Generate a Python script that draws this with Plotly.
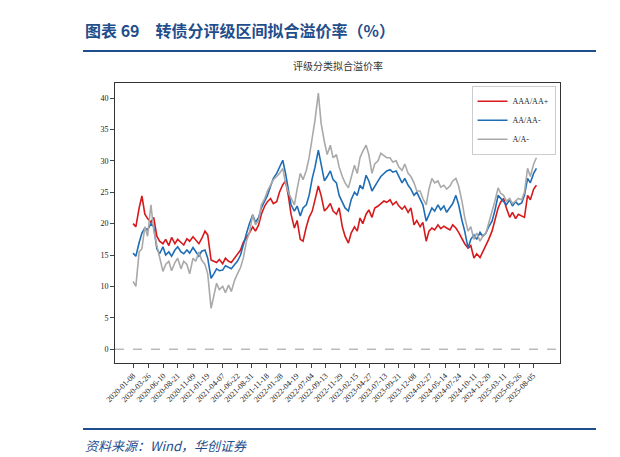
import pandas as pd
import plotly.graph_objects as go

# semi-monthly observation dates, 2020-01-08 .. 2025-08-22
dates = pd.date_range("2020-01-01", "2025-08-31", freq="SMS") + pd.Timedelta(days=7)

aaa = [20.0, 19.5, 22.5, 24.4, 21.5, 20.8, 20.2, 21.0, 18.0, 17.2, 16.8, 17.5, 16.5, 17.8, 16.8, 17.5, 17.0, 16.6, 17.6, 17.2, 17.9, 17.3, 16.8, 17.6,
       18.8, 18.2, 14.2, 14.0, 13.8, 14.3, 13.6, 14.5, 14.0, 13.8, 14.6, 15.2, 15.8, 17.0, 17.8, 18.5, 19.5, 18.8, 19.8, 21.5, 22.8, 23.5, 24.0, 23.2,
       23.5, 25.0, 26.2, 26.8, 24.5, 21.5, 19.3, 20.5, 17.5, 17.2, 19.5, 21.0, 22.0, 24.0, 26.0, 24.5, 22.0, 22.5, 23.2, 22.0, 21.5, 22.5, 19.5, 18.0,
       16.9, 18.5, 19.5, 18.8, 20.9, 20.0, 21.5, 22.2, 21.0, 22.5, 22.8, 23.2, 23.6, 23.4, 23.8, 23.0, 23.5, 22.8, 22.3, 22.8, 21.8, 22.5, 19.8, 20.5,
       19.5, 20.2, 17.2, 18.8, 19.3, 19.0, 19.8, 19.2, 19.6, 19.3, 19.0, 19.8, 19.3, 18.6, 17.5, 16.8, 16.1, 16.5, 14.5, 15.2, 14.6, 15.5, 16.8, 17.5,
       18.8, 20.5, 22.5, 23.5, 24.0, 22.5, 21.0, 21.8, 20.8, 21.5, 21.2, 21.0, 24.5, 23.8, 25.5, 26.1]

aa = [15.3, 14.8, 17.0, 18.5, 19.3, 19.0, 20.0, 19.5, 16.0, 15.2, 16.3, 15.0, 15.5, 14.8, 15.8, 16.3, 15.5, 15.2, 15.8, 15.3, 16.2, 15.5, 14.8, 15.6,
      15.8, 14.5, 11.3, 12.0, 12.8, 12.5, 12.6, 13.3, 13.0, 12.8, 13.5, 14.0, 15.0, 16.8, 18.5, 20.0, 21.4, 20.2, 21.0, 22.5, 23.6, 24.5, 26.0, 27.2,
      28.0, 29.0, 30.1, 28.0, 25.5, 23.0, 22.0, 22.8, 21.2, 22.5, 23.0, 24.5, 27.2, 29.0, 31.7, 29.5, 26.8, 27.5, 28.4, 27.0, 26.5, 24.5, 23.5, 22.5,
      22.0, 23.8, 25.0, 24.5, 26.1, 25.5, 27.7, 26.8, 25.2, 26.0, 26.8, 27.5, 28.0, 28.4, 28.6, 28.2, 28.4, 27.5, 26.5, 27.2, 26.1, 25.5, 24.5, 25.0,
      24.0, 23.0, 20.4, 21.5, 22.5, 22.0, 23.0, 22.2, 22.8, 21.8, 22.5, 23.2, 24.5, 23.0, 20.5, 18.8, 16.1, 17.5, 18.2, 17.5, 18.6, 18.0, 18.5, 19.5,
      20.4, 22.0, 24.5, 24.0, 23.6, 23.0, 23.8, 22.8, 23.5, 23.0, 23.3, 24.5, 27.2, 26.5, 28.0, 28.8]

a = [10.8, 10.0, 15.5, 16.0, 19.5, 18.0, 23.0, 19.0, 16.5, 14.5, 12.4, 13.5, 14.0, 12.5, 13.8, 14.5, 12.8, 14.0, 13.5, 12.0, 14.5, 14.0, 15.5, 14.2,
     13.5, 12.0, 6.5, 8.5, 10.5, 9.5, 10.0, 9.0, 10.2, 9.2, 11.0, 12.0, 13.0, 14.5, 17.3, 18.5, 21.4, 19.8, 20.5, 23.0, 24.0, 25.2, 26.1, 27.0,
     27.5, 28.0, 28.8, 26.5, 25.0, 24.0, 23.0, 25.5, 28.0, 27.0, 28.5, 30.5, 33.6, 36.5, 40.8, 36.0, 33.0, 31.0, 32.5, 30.5, 31.0, 29.0, 27.5, 26.5,
     25.7, 27.5, 29.3, 28.0, 30.5, 31.5, 32.5, 31.0, 28.0, 29.5, 30.0, 31.2, 30.8, 30.5, 30.5, 29.8, 30.0, 29.0, 28.5, 29.5, 28.0, 27.5, 26.5, 25.2,
     25.2, 24.0, 23.0, 25.5, 27.2, 26.5, 26.8, 25.8, 26.1, 25.5, 26.0, 26.8, 27.2, 26.0, 23.6, 21.0, 18.8, 19.5, 17.5, 18.5, 17.2, 18.0, 18.5, 20.0,
     22.0, 23.5, 25.7, 24.8, 24.5, 23.6, 24.0, 23.2, 23.6, 24.0, 23.8, 25.0, 28.8, 27.5, 29.5, 30.5]

tick_dates = ["2020-01-08", "2020-03-26", "2020-06-10", "2020-08-21", "2020-11-09", "2021-01-19",
              "2021-04-07", "2021-06-22", "2021-08-31", "2021-11-18", "2022-01-28", "2022-04-19",
              "2022-07-04", "2022-09-13", "2022-11-29", "2023-02-15", "2023-04-27", "2023-07-13",
              "2023-09-21", "2023-12-08", "2024-02-27", "2024-05-14", "2024-07-24", "2024-10-11",
              "2024-12-20", "2025-03-11", "2025-05-26", "2025-08-05"]

serif = "Liberation Serif, Noto Sans CJK SC"
L, T, W, H = 107, 75, 445, 280  # plot box in pixels


def px(x, y):
    return (x - L) / W, 1 - (y - T) / H


fig = go.Figure()
for name, ys, col in [("AAA/AA+", aaa, "#d7191c"), ("AA/AA-", aa, "#1f6db5"), ("A/A-", a, "#a9a9a9")]:
    fig.add_trace(go.Scatter(x=dates, y=ys, name=name, mode="lines", line=dict(color=col, width=1.6)))

fig.add_hline(y=0, line=dict(color="#999999", width=1, dash="dash"))

tx, ty = px(75, 22)
fx, fy = px(75, 437)
fig.update_layout(
    width=620, height=457, paper_bgcolor="white", plot_bgcolor="white",
    margin=dict(l=L, r=620 - L - W, t=T, b=457 - T - H, autoexpand=False),
    font=dict(family=serif, size=8, color="#222222"),
    showlegend=True,
    legend=dict(x=0.99, y=0.99, xanchor="right", yanchor="top", bordercolor="#cccccc", borderwidth=1,
                font=dict(size=8), bgcolor="white"),
    annotations=[
        dict(text="<b>图表 69　转债分评级区间拟合溢价率（%）</b>", x=tx, y=ty, xref="paper", yref="paper",
             showarrow=False, xanchor="left", yanchor="middle",
             font=dict(size=16, color="#1f4e8c", family="Noto Sans CJK SC")),
        dict(text="评级分类拟合溢价率", x=0.5, y=1.03, xref="paper", yref="paper", showarrow=False,
             yanchor="bottom", font=dict(size=10, color="#333333", family="Noto Sans CJK SC")),
        dict(text="<i>资料来源：Wind，华创证券</i>", x=fx, y=fy, xref="paper", yref="paper",
             showarrow=False, xanchor="left", yanchor="middle",
             font=dict(size=13, color="#1f4e8c", family="Noto Sans CJK SC")),
    ],
)

for yy in (43, 421):
    x0, y0 = px(75, yy)
    x1, _ = px(588, yy)
    fig.add_shape(type="line", xref="paper", yref="paper", x0=x0, x1=x1, y0=y0, y1=y0,
                  line=dict(color="#1f4e8c", width=2))

fig.update_xaxes(tickvals=tick_dates, ticktext=tick_dates, tickangle=-45, ticks="outside", ticklen=4,
                 showgrid=False, showline=True, linecolor="#333333", mirror=True, automargin=False,
                 range=["2019-10-08", "2025-12-20"], tickfont=dict(size=8))
fig.update_yaxes(range=[-2.2, 42.4], tickvals=[0, 5, 10, 15, 20, 25, 30, 35, 40], ticks="outside", ticklen=4,
                 showgrid=False, showline=True, linecolor="#333333", mirror=True, zeroline=False,
                 automargin=False, tickfont=dict(size=8))

fig.write_html("out.html")
